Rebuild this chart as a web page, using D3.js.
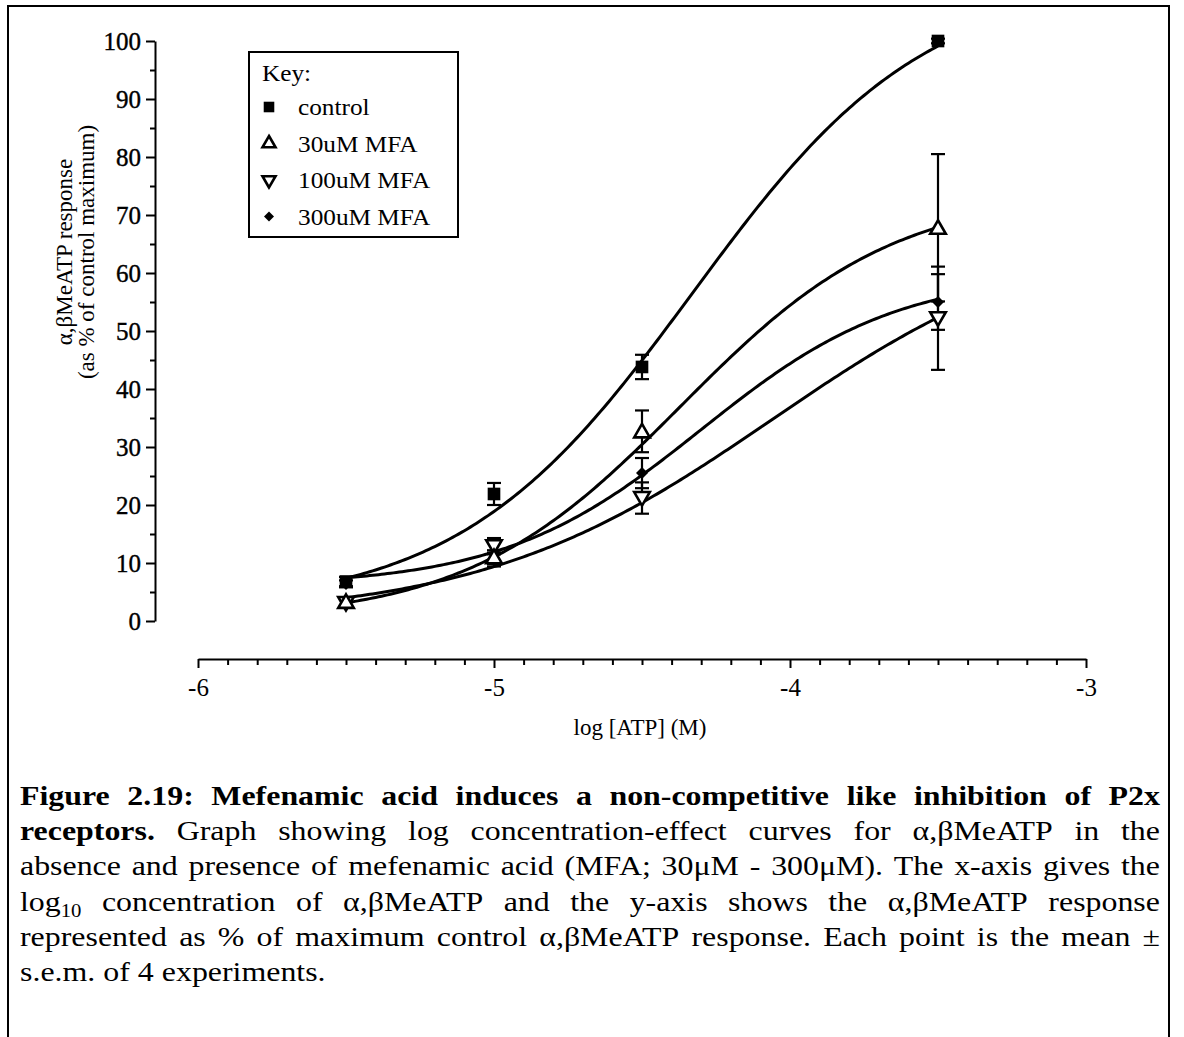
<!DOCTYPE html>
<html><head><meta charset="utf-8">
<script src="https://cdn.jsdelivr.net/npm/d3@7"></script>
<style>
body{margin:0;background:#fff}
svg{display:block}
text{font-family:"Liberation Serif","Times New Roman",serif;fill:#000}
</style></head>
<body><svg id="c" width="1184" height="1037"></svg>
<script>
// ---------- data ----------
const seriesNames = ["control", "30uM MFA", "100uM MFA", "300uM MFA"];
const logATP = [-5.5, -5, -4.5, -3.5];
const controlMean = [6.8, 21.9, 43.8, 100];
const controlSEM  = [0.8, 1.9, 2.1, 0.4];
const mfa30Mean   = [3.3, 11.0, 32.7, 67.8];
const mfa30SEM    = [0.6, 1.2, 3.6, 12.7];
const mfa100Mean  = [3.1, 12.9, 21.2, 52.2];
const mfa100SEM   = [0.6, 1.4, 2.7, 8.9];
const mfa300Mean  = [6.4, 10.6, 25.5, 55.0];
const mfa300SEM   = [0.6, 1.2, 2.6, 4.8];
// fitted sigmoid (log concentration-effect) parameters per series
const fitBottom  = [2, 0, 0.5, 6];
const fitTop     = [111, 74, 69, 60];
const fitLogEC50 = [-4.33, -4.37, -4.06, -4.3];
const fitHill    = [1.1, 1.2, 0.88, 1.3];
const xTicks = [-6, -5, -4, -3];
const yTicks = [0, 10, 20, 30, 40, 50, 60, 70, 80, 90, 100];
const legendTitle = "Key:";
const xTitle = "log [ATP] (M)";
const yTitle1 = "\u03b1,\u03b2MeATP response";
const yTitle2 = "(as % of control maximum)";

const means = [controlMean, mfa30Mean, mfa100Mean, mfa300Mean];
const sems  = [controlSEM, mfa30SEM, mfa100SEM, mfa300SEM];

const svg = d3.select("#c");
// outer frame
svg.append("rect").attr("x", 8).attr("y", 6).attr("width", 1161).attr("height", 1060)
  .attr("fill", "none").attr("stroke", "#000").attr("stroke-width", 2);

const x = d3.scaleLinear().domain([-6, -3]).range([198, 1086]);
const y = d3.scaleLinear().domain([0, 100]).range([621, 41]);

// ---------- y axis ----------
const yAxisG = svg.append("g").attr("transform", "translate(155,0)");
yAxisG.append("g").call(d3.axisLeft(y).tickValues(d3.range(5, 100, 10)).tickSize(5).tickFormat(""))
  .call(g => g.select(".domain").remove());
yAxisG.append("g").call(d3.axisLeft(y).tickValues(yTicks).tickSize(9).tickSizeOuter(0).tickPadding(5))
  .call(g => g.selectAll("text").attr("font-size", 25).attr("font-family", "Liberation Serif")
    .attr("stroke", "#000").attr("stroke-width", 0.4));
yAxisG.selectAll("line,path").attr("stroke", "#000").attr("stroke-width", 2);

// ---------- x axis ----------
const xAxisG = svg.append("g").attr("transform", "translate(0,659)");
xAxisG.append("g").call(d3.axisBottom(x).tickValues(d3.range(-5.9, -3.0, 0.1).filter(v => Math.abs(v - Math.round(v)) > 0.01)).tickSize(6).tickFormat(""))
  .call(g => g.select(".domain").remove());
xAxisG.append("g").call(d3.axisBottom(x).tickValues(xTicks).tickSize(9).tickSizeOuter(0).tickPadding(10).tickFormat(d => d))
  .call(g => g.selectAll("text").attr("font-size", 25).attr("font-family", "Liberation Serif"));
xAxisG.selectAll("line,path").attr("stroke", "#000").attr("stroke-width", 2);

// axis titles
svg.append("text").attr("x", 640).attr("y", 735).attr("text-anchor", "middle").attr("font-size", 23).text(xTitle);
svg.append("text").attr("transform", "translate(72,252) rotate(-90)").attr("text-anchor", "middle").attr("font-size", 23).text(yTitle1);
svg.append("text").attr("transform", "translate(94,252) rotate(-90)").attr("text-anchor", "middle").attr("font-size", 23).text(yTitle2);

// ---------- curves ----------
const curveXs = d3.range(0, 201).map(i => -5.5 + i * 0.01);
const sig = (k, v) => fitBottom[k] + (fitTop[k] - fitBottom[k]) / (1 + Math.pow(10, (fitLogEC50[k] - v) * fitHill[k]));
const line = d3.line().x(d => x(d[0])).y(d => y(d[1])).curve(d3.curveLinear);
seriesNames.forEach((n, k) => {
  svg.append("path").attr("d", line(curveXs.map(v => [v, sig(k, v)])))
    .attr("fill", "none").attr("stroke", "#000").attr("stroke-width", 3);
});

// ---------- error bars ----------
seriesNames.forEach((n, k) => {
  const g = svg.append("g");
  logATP.forEach((lx, i) => {
    const m = means[k][i], s = sems[k][i];
    const cx = x(lx);
    g.append("line").attr("x1", cx).attr("x2", cx).attr("y1", y(m - s)).attr("y2", y(m + s));
    [m - s, m + s].forEach(v => g.append("line").attr("x1", cx - 7).attr("x2", cx + 7).attr("y1", y(v)).attr("y2", y(v)));
  });
  g.selectAll("line").attr("stroke", "#000").attr("stroke-width", 2.2);
});

// ---------- markers ----------
function marker(sel, k, scale) {
  const s = scale || 1;
  if (k === 0) {
    sel.attr("d", d3.symbol().type(d3.symbolSquare).size(160 * s)()).attr("fill", "#000").attr("stroke", "none");
  } else if (k === 1 || k === 2) {
    sel.attr("d", d3.symbol().type(d3.symbolTriangle).size(105 * s)()).attr("fill", "#fff").attr("stroke", "#000").attr("stroke-width", 2.6);
  } else {
    sel.attr("d", d3.symbol().type(d3.symbolSquare).size(72 * s)()).attr("fill", "#000").attr("stroke", "none");
  }
}
function markerRot(k) { return k === 2 ? " rotate(180)" : (k === 3 ? " rotate(45)" : ""); }
[3, 2, 1, 0].forEach(k => {
  logATP.forEach((lx, i) => {
    const p = svg.append("path").attr("transform", `translate(${x(lx)},${y(means[k][i]) + (k === 1 ? 1.5 : k === 2 ? -1.5 : 0)})` + markerRot(k));
    marker(p, k);
  });
});

// ---------- legend ----------
const lg = svg.append("g");
lg.append("rect").attr("x", 249).attr("y", 52).attr("width", 209).attr("height", 185)
  .attr("fill", "#fff").attr("stroke", "#000").attr("stroke-width", 2);
lg.append("text").attr("transform", "translate(262,81) scale(1.1,1)").attr("font-size", 23).text(legendTitle);
seriesNames.forEach((n, k) => {
  const cy = 107 + k * 36.5;
  const p = lg.append("path").attr("transform", `translate(269,${cy})` + markerRot(k));
  marker(p, k, 0.7);
  lg.append("text").attr("transform", `translate(298,${cy + 8}) scale(1.1,1)`).attr("font-size", 23).text(n);
});

// ---------- caption (justified) ----------
const captionLines = [
  [{t: "Figure 2.19: Mefenamic acid induces a non-competitive like inhibition of P2x", b: true}],
  [{t: "receptors.", b: true}, {t: "Graph showing log concentration-effect curves for \u03b1,\u03b2MeATP in the"}],
  [{t: "absence and presence of mefenamic acid (MFA; 30\u03bcM - 300\u03bcM). The x-axis gives the"}],
  [{t: "log", sub: "10"}, {t: "concentration of \u03b1,\u03b2MeATP and the y-axis shows the \u03b1,\u03b2MeATP response"}],
  [{t: "represented as % of maximum control \u03b1,\u03b2MeATP response. Each point is the mean \u00b1"}],
  [{t: "s.e.m. of 4 experiments."}]
];
const capFont = 27.5, capScale = 1.16, capLeft = 20, capRight = 1160, capTop = 805, capStep = 35.2;
captionLines.forEach((runs, li) => {
  const words = [];
  runs.forEach(r => {
    if (r.sub) words.push({t: r.t, sub: r.sub, b: r.b});
    else r.t.split(" ").forEach(w => words.push({t: w, b: r.b}));
  });
  const by = capTop + li * capStep;
  const els = words.map(w => {
    const te = svg.append("text").attr("font-size", capFont).attr("font-weight", w.b ? "bold" : "normal");
    te.append("tspan").text(w.t);
    if (w.sub) te.append("tspan").attr("font-size", capFont * 0.65).attr("dy", 6).text(w.sub);
    return te;
  });
  const widths = els.map(e => e.node().getComputedTextLength() * capScale);
  const total = d3.sum(widths);
  const last = li === captionLines.length - 1;
  const gap = last ? capFont * 0.25 * capScale : (capRight - capLeft - total) / (words.length - 1);
  let cx = capLeft;
  els.forEach((e, i) => { e.attr("transform", `translate(${cx},${by}) scale(${capScale},1)`); cx += widths[i] + gap; });
});
</script></body></html>
